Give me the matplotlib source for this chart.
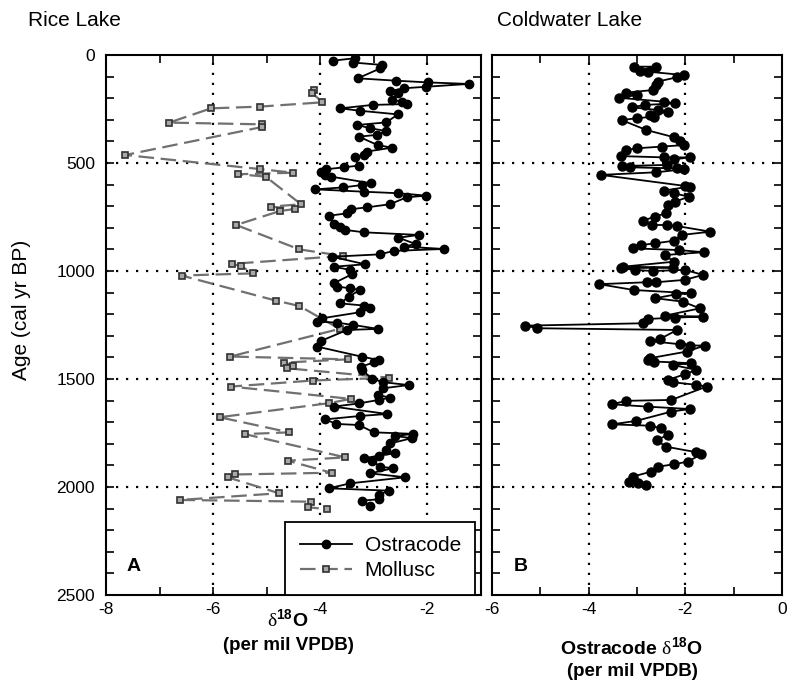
import matplotlib
matplotlib.use("Agg")
import matplotlib.pyplot as plt
import numpy as np
from matplotlib.ticker import MultipleLocator

# Rice Lake ostracode d18O (x) and age (cal yr BP)
rice_ost_d18o = [-3.76, -3.35, -3.38, -2.85, -2.88, -3.30, -2.58, -1.98, -1.23, -2.02,
                 -2.44, -2.69, -2.55, -2.66, -2.47, -2.38, -3.02, -3.63, -3.26, -2.55,
                 -2.77, -3.31, -3.07, -2.77, -2.95, -3.28, -2.93, -2.66, -3.13, -3.18,
                 -3.35, -3.28, -3.56, -3.89, -3.99, -3.91, -3.80, -3.05, -3.22, -3.58,
                 -4.09, -3.18, -2.54, -2.02, -2.39, -2.70, -3.12, -3.43, -3.50, -3.83,
                 -3.74, -3.63, -3.53, -3.18, -2.16, -2.54, -2.22, -2.44, -1.69, -2.63,
                 -2.89, -3.78, -3.16, -3.75, -3.44, -3.41, -3.75, -3.69, -3.44, -3.26,
                 -3.47, -3.63, -3.18, -3.07, -3.26, -3.97, -4.06, -3.69, -3.38, -2.92,
                 -3.50, -3.99, -4.06, -3.22, -2.91, -3.00, -3.24, -3.22, -3.03, -2.82,
                 -2.35, -2.83, -2.93, -2.69, -2.91, -3.28, -3.75, -2.75, -3.25, -3.91,
                 -3.70, -3.28, -3.00, -2.26, -2.60, -2.29, -2.69, -2.78, -2.60, -2.91,
                 -3.19, -3.03, -2.88, -2.64, -3.07, -2.41, -3.44, -3.84, -2.72, -2.91,
                 -2.91, -3.22, -3.07]
rice_ost_age = [26, 15, 35, 46, 62, 108, 119, 127, 134, 147,
                154, 167, 177, 208, 216, 227, 231, 247, 258, 275,
                312, 324, 339, 352, 370, 378, 417, 429, 447, 463,
                474, 512, 520, 529, 543, 555, 563, 594, 602, 613,
                622, 633, 640, 651, 659, 691, 705, 714, 733, 744,
                782, 795, 810, 821, 833, 846, 875, 887, 898, 907,
                923, 934, 969, 980, 995, 1015, 1057, 1072, 1080, 1088,
                1119, 1150, 1160, 1173, 1191, 1219, 1234, 1239, 1250, 1268,
                1273, 1324, 1350, 1397, 1412, 1423, 1443, 1458, 1500, 1515,
                1528, 1543, 1574, 1586, 1597, 1613, 1628, 1662, 1671, 1687,
                1708, 1713, 1747, 1754, 1764, 1774, 1798, 1831, 1844, 1855,
                1867, 1878, 1906, 1913, 1937, 1955, 1983, 2006, 2017, 2037,
                2057, 2063, 2088]

# Rice Lake mollusc d18O and age
rice_mol_d18o = [-4.12, -4.16, -3.96, -5.13, -6.04, -6.82, -5.09, -5.08, -7.64, -5.13,
                 -4.51, -5.54, -5.02, -4.36, -4.92, -4.47, -4.75, -5.57, -4.39, -3.58,
                 -5.65, -5.48, -5.26, -6.59, -4.83, -4.39, -3.64, -5.68, -3.49, -4.67,
                 -4.50, -4.63, -2.72, -4.14, -5.67, -3.43, -3.84, -5.88, -4.58, -5.41,
                 -3.53, -4.61, -3.79, -5.59, -5.73, -4.77, -6.62, -4.17, -4.23, -3.88]
rice_mol_age = [162, 174, 219, 239, 247, 313, 321, 333, 463, 528,
                545, 552, 563, 691, 702, 713, 722, 787, 900, 930,
                967, 977, 1011, 1021, 1137, 1162, 1268, 1396, 1409, 1424,
                1438, 1450, 1494, 1507, 1535, 1592, 1612, 1677, 1747, 1755,
                1863, 1878, 1934, 1942, 1955, 2029, 2060, 2068, 2094, 2102]

# Coldwater Lake ostracode d18O and age
cold_d18o = [-3.06, -2.60, -2.94, -2.78, -2.03, -2.17, -2.57, -2.60, -2.66, -3.22,
             -2.99, -3.37, -2.45, -2.21, -2.83, -3.11, -2.56, -2.36, -2.73, -2.65,
             -3.01, -3.32, -2.81, -2.23, -2.12, -2.03, -2.49, -3.01, -3.22, -3.34,
             -2.45, -1.91, -2.23, -2.38, -3.32, -3.15, -2.17, -2.03, -2.60, -3.75,
             -2.00, -1.91, -2.45, -2.24, -1.93, -2.21, -2.35, -2.40, -2.63, -2.87,
             -2.69, -2.38, -2.17, -1.48, -2.07, -2.24, -2.63, -2.92, -3.09, -2.14,
             -1.62, -2.42, -2.24, -3.28, -2.26, -3.33, -3.05, -2.67, -2.01, -1.63,
             -2.01, -2.60, -2.79, -3.78, -3.07, -1.88, -2.19, -2.62, -2.05, -1.70,
             -2.43, -1.63, -2.22, -2.78, -2.87, -5.31, -5.06, -2.17, -2.53, -2.74,
             -2.12, -1.91, -1.60, -1.97, -2.74, -2.78, -2.64, -1.88, -2.26, -1.77,
             -2.01, -2.36, -2.26, -1.77, -1.56, -2.29, -3.22, -3.52, -2.78, -1.91,
             -2.29, -3.02, -3.52, -2.74, -2.50, -2.36, -2.59, -2.41, -1.77, -1.67,
             -1.94, -2.24, -2.57, -2.71, -3.09, -3.16, -2.98, -2.81]
cold_age = [54, 54, 72, 77, 93, 103, 123, 139, 162, 174,
            185, 198, 216, 224, 231, 242, 255, 262, 278, 285,
            293, 301, 347, 381, 397, 417, 424, 432, 440, 468,
            474, 474, 483, 509, 514, 520, 525, 529, 543, 555,
            606, 609, 628, 640, 656, 679, 694, 733, 748, 767,
            787, 787, 792, 818, 833, 860, 872, 880, 895, 903,
            913, 926, 957, 980, 984, 987, 995, 1000, 995, 1018,
            1041, 1052, 1052, 1061, 1088, 1103, 1108, 1126, 1142, 1173,
            1207, 1211, 1216, 1222, 1242, 1253, 1265, 1273, 1315, 1324,
            1339, 1345, 1345, 1373, 1404, 1412, 1419, 1427, 1435, 1458,
            1478, 1504, 1515, 1527, 1535, 1597, 1601, 1617, 1628, 1639,
            1651, 1694, 1710, 1716, 1728, 1759, 1782, 1813, 1839, 1848,
            1882, 1895, 1906, 1929, 1952, 1975, 1983, 1990]

plt.rcParams['font.family'] = 'Liberation Sans'
plt.rcParams['axes.unicode_minus'] = False
plt.rcParams['mathtext.fontset'] = 'custom'
plt.rcParams['mathtext.rm'] = 'Liberation Serif'
plt.rcParams['mathtext.bf'] = 'Liberation Sans:bold'

fig = plt.figure(figsize=(7.87, 6.84), dpi=100)
axA = fig.add_axes([106/787, 89/684, 375/787, 540/684])
axB = fig.add_axes([492/787, 89/684, 290/787, 540/684])

grid_kw = dict(color='black', linestyle=(0, (1, 3.5)), linewidth=1.6, zorder=0)


def style(ax, xmin, xmax):
    ax.set_xlim(xmin, xmax)
    ax.set_ylim(2500, 0)
    ax.xaxis.set_major_locator(MultipleLocator(2))
    ax.xaxis.set_minor_locator(MultipleLocator(1))
    ax.yaxis.set_major_locator(MultipleLocator(500))
    ax.yaxis.set_minor_locator(MultipleLocator(100))
    ax.tick_params(which='both', direction='in', top=True, right=True,
                   width=1.2, labelsize=12.5, length=6)
    ax.tick_params(axis='y', pad=8)
    ax.tick_params(axis='x', pad=5)
    for s in ax.spines.values():
        s.set_linewidth(1.5)
    for v in range(int(xmin) + 2, int(xmax), 2):
        if v % 2 == 0:
            ax.axvline(v, **grid_kw)
    for a in [500, 1000, 1500, 2000]:
        ax.axhline(a, **grid_kw)


style(axA, -8, -1)
style(axB, -6, 0)
axB.tick_params(labelleft=False)

axA.plot(rice_mol_d18o, rice_mol_age, color='#707070', lw=1.6,
         dashes=(7, 3), marker='s', ms=5, mfc='#a8a8a8', mec='#303030',
         mew=1.2, label='Mollusc', zorder=2)
axA.plot(rice_ost_d18o, rice_ost_age, color='black', lw=1.3, marker='o',
         ms=6, label='Ostracode', zorder=3)

h, l = axA.get_legend_handles_labels()
leg = axA.legend(h[::-1], l[::-1], loc='lower right', bbox_to_anchor=(0.985, 0.0),
                 borderaxespad=0, fontsize=15, fancybox=False, framealpha=1,
                 edgecolor='black', handlelength=2.5, handletextpad=0.6,
                 labelspacing=0.3, borderpad=0.7)
leg.get_frame().set_linewidth(1.3)
leg.set_zorder(5)

axB.plot(cold_d18o, cold_age, color='black', lw=1.3, marker='o', ms=6.5, zorder=3)

axA.text(0.055, 0.045, 'A', transform=axA.transAxes, fontsize=14, fontweight='bold')
axB.text(0.075, 0.045, 'B', transform=axB.transAxes, fontsize=14, fontweight='bold')

fig.text(28/787, 1 - 20/684, 'Rice Lake', fontsize=15, va='center')
fig.text(497/787, 1 - 20/684, 'Coldwater Lake', fontsize=15, va='center')
fig.text(22/787, 1 - 310/684, 'Age (cal yr BP)', fontsize=15, rotation=90,
         va='center', ha='center')

fig.text(288/787, 1 - 620/684, r'$\mathrm{\delta}^{\mathbf{18}}$O', fontsize=14,
         fontweight='bold', ha='center', va='center')
fig.text(288/787, 1 - 645/684, '(per mil VPDB)', fontsize=13.5,
         fontweight='bold', ha='center', va='center')
fig.text(632/787, 1 - 648/684, r'Ostracode $\mathrm{\delta}^{\mathbf{18}}$O',
         fontsize=14, fontweight='bold', ha='center', va='center')
fig.text(632/787, 1 - 672/684, '(per mil VPDB)', fontsize=13.5,
         fontweight='bold', ha='center', va='center')

fig.savefig('out.png', dpi=100)
